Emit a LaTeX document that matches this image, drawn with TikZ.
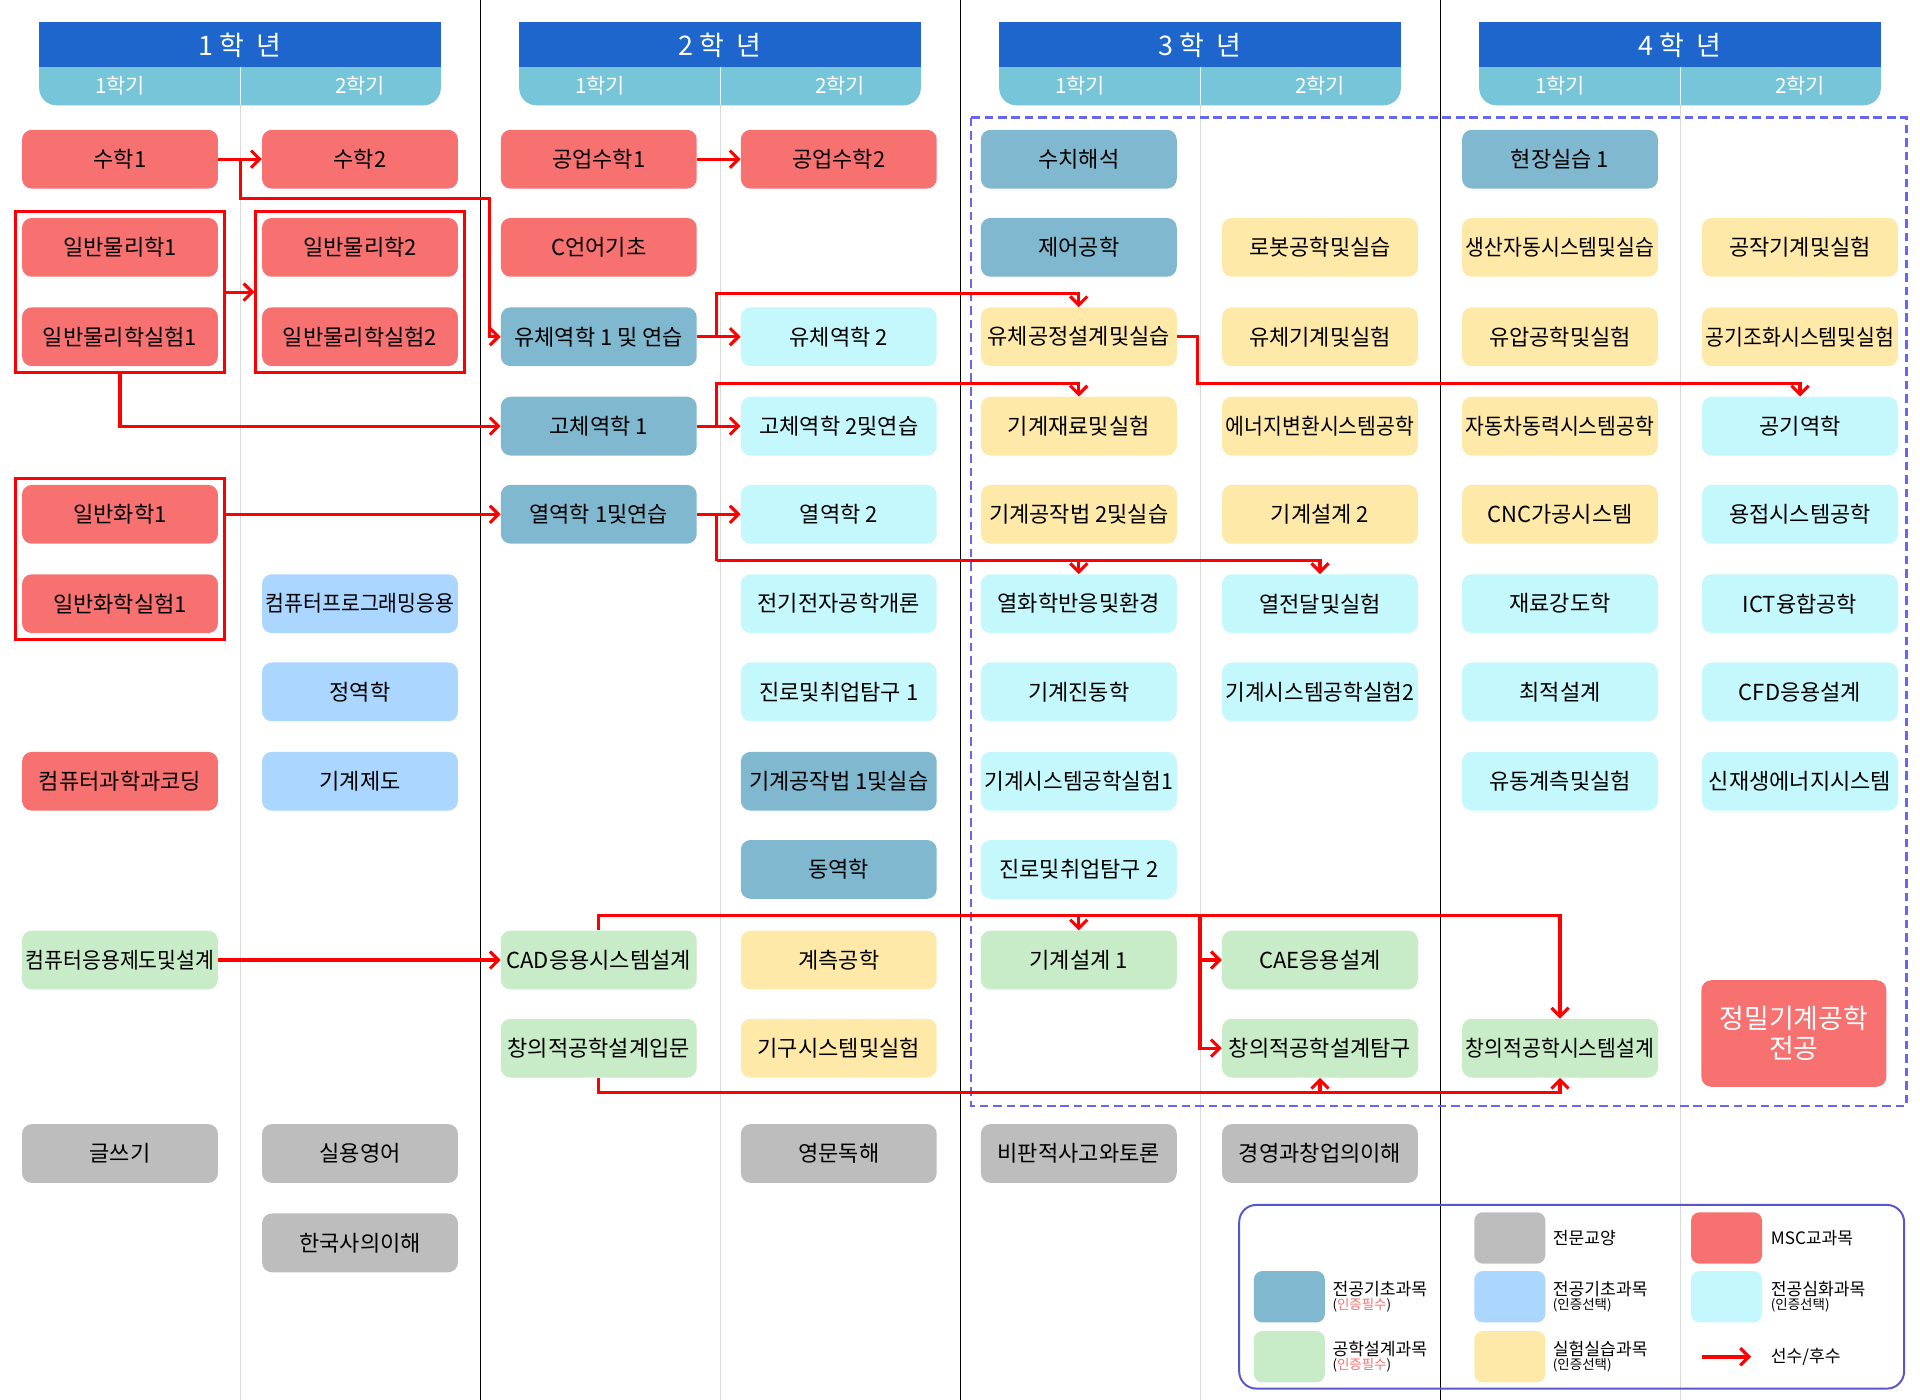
\documentclass[tikz,border=0pt]{standalone}
\usepackage{fontspec}
\usepackage{graphicx}
\newfontfamily\cjk{Noto Sans CJK KR}
\usetikzlibrary{arrows.meta,fit,calc}
\definecolor{msc}{HTML}{F87171}
\definecolor{gen}{HTML}{BDBDBD}
\definecolor{teal}{HTML}{7FB8CF}
\definecolor{lblue}{HTML}{AAD6FF}
\definecolor{cyanc}{HTML}{C5F8FC}
\definecolor{green}{HTML}{C8EBC8}
\definecolor{yel}{HTML}{FFE9A8}
\definecolor{hblue}{HTML}{1F66CC}
\definecolor{hsem}{HTML}{76C5D8}
\definecolor{purp}{HTML}{6666EE}
\newsavebox\fbx
\newcommand\fitt[1]{\sbox\fbx{#1}\ifdim\wd\fbx>154pt\resizebox{154pt}{\height}{\usebox\fbx}\else\usebox\fbx\fi}
\newcommand\crs[5]{\node[course,fill=#4] (#1) at (#2,#3) {\fitt{#5}};}
\begin{document}
\begin{tikzpicture}[x=1pt,y=-1pt,
  course/.style={rounded corners=8pt,minimum width=160pt,minimum height=48pt,inner sep=0pt,font=\cjk\fontsize{18}{20}\selectfont},
  redgrp/.style={draw=red,line width=2.2pt,inner sep=5pt},
  wire/.style={draw=red,line width=2.5pt},
  arr/.style={wire,-{Straight Barb[length=7pt,width=14pt,line width=2.5pt]}},
  sep/.style={line width=0.6pt},
  lsep/.style={draw=gray!30,line width=0.6pt}]
\useasboundingbox (0,0) rectangle (1568,1143);
\fill[white] (0,0) rectangle (1568,1143);
% separators
\foreach \x in {196,588,980,1372} \draw[lsep] (\x,58) -- (\x,1143);
\foreach \x in {392,784,1176} \draw[sep] (\x,0) -- (\x,1143);
% headers
\foreach \cx/\yr in {196/1,588/2,980/3,1372/4}{
  \fill[hsem,rounded corners=14pt] (\cx-164,40) rectangle (\cx+164,86);
  \fill[hblue] (\cx-164,18) rectangle (\cx+164,55);
  \draw[white!80!hsem,line width=0.6pt] (\cx,55) -- (\cx,86);
  \node[font=\cjk\fontsize{22}{24}\selectfont,text=white] (yr\yr) at (\cx,37) {\yr\ 학 \ 년};
  \node[font=\cjk\fontsize{17}{19}\selectfont,text=white] (sa\yr) at (\cx-98,70) {1학기};
  \node[font=\cjk\fontsize{17}{19}\selectfont,text=white] (sb\yr) at (\cx+98,70) {2학기};
}
\draw[purp,dashed,line width=2pt,dash pattern=on 7pt off 4pt] (793,96) rectangle (1557,903);
% column 1
\crs{s1}{98}{130}{msc}{수학1}
\crs{p1}{98}{202}{msc}{일반물리학1}
\crs{pl1}{98}{275}{msc}{일반물리학실험1}
\crs{ch1}{98}{420}{msc}{일반화학1}
\crs{chl1}{98}{493}{msc}{일반화학실험1}
\crs{cc}{98}{638}{msc}{컴퓨터과학과코딩}
\crs{cad0}{98}{784}{green}{컴퓨터응용제도및설계}
\crs{wr}{98}{942}{gen}{글쓰기}
% column 2
\crs{s2}{294}{130}{msc}{수학2}
\crs{p2}{294}{202}{msc}{일반물리학2}
\crs{pl2}{294}{275}{msc}{일반물리학실험2}
\crs{cpa}{294}{493}{lblue}{컴퓨터프로그래밍응용}
\crs{st}{294}{565}{lblue}{정역학}
\crs{md}{294}{638}{lblue}{기계제도}
\crs{en}{294}{942}{gen}{실용영어}
\crs{kh}{294}{1015}{gen}{한국사의이해}
% column 3
\crs{em1}{489}{130}{msc}{공업수학1}
\crs{cl}{489}{202}{msc}{C언어기초}
\crs{f1}{489}{275}{teal}{유체역학 1 및 연습}
\crs{k1}{489}{348}{teal}{고체역학 1}
\crs{t1}{489}{420}{teal}{열역학 1및연습}
\crs{cad}{489}{784}{green}{CAD응용시스템설계}
\crs{cdi}{489}{856}{green}{창의적공학설계입문}
% column 4
\crs{em2}{685}{130}{msc}{공업수학2}
\crs{f2}{685}{275}{cyanc}{유체역학 2}
\crs{k2}{685}{348}{cyanc}{고체역학 2및연습}
\crs{t2}{685}{420}{cyanc}{열역학 2}
\crs{ee}{685}{493}{cyanc}{전기전자공학개론}
\crs{cr1}{685}{565}{cyanc}{진로및취업탐구 1}
\crs{mf1}{685}{638}{teal}{기계공작법 1및실습}
\crs{dy}{685}{710}{teal}{동역학}
\crs{ms}{685}{784}{yel}{계측공학}
\crs{mc}{685}{856}{yel}{기구시스템및실험}
\crs{er}{685}{942}{gen}{영문독해}
% column 5
\crs{na}{881}{130}{teal}{수치해석}
\crs{ctl}{881}{202}{teal}{제어공학}
\crs{fp}{881}{275}{yel}{유체공정설계및실습}
\crs{mat}{881}{348}{yel}{기계재료및실험}
\crs{mf2}{881}{420}{yel}{기계공작법 2및실습}
\crs{rxn}{881}{493}{cyanc}{열화학반응및환경}
\crs{vib}{881}{565}{cyanc}{기계진동학}
\crs{msl1}{881}{638}{cyanc}{기계시스템공학실험1}
\crs{cr2}{881}{710}{cyanc}{진로및취업탐구 2}
\crs{md1}{881}{784}{green}{기계설계 1}
\crs{ct}{881}{942}{gen}{비판적사고와토론}
% column 6
\crs{rb}{1078}{202}{yel}{로봇공학및실습}
\crs{fm}{1078}{275}{yel}{유체기계및실험}
\crs{ec}{1078}{348}{yel}{에너지변환시스템공학}
\crs{md2}{1078}{420}{yel}{기계설계 2}
\crs{htr}{1078}{493}{cyanc}{열전달및실험}
\crs{msl2}{1078}{565}{cyanc}{기계시스템공학실험2}
\crs{cae}{1078}{784}{green}{CAE응용설계}
\crs{cdx}{1078}{856}{green}{창의적공학설계탐구}
\crs{bm}{1078}{942}{gen}{경영과창업의이해}
% column 7
\crs{ip}{1274}{130}{teal}{현장실습 1}
\crs{pa}{1274}{202}{yel}{생산자동시스템및실습}
\crs{hy}{1274}{275}{yel}{유압공학및실험}
\crs{av}{1274}{348}{yel}{자동차동력시스템공학}
\crs{cnc}{1274}{420}{yel}{CNC가공시스템}
\crs{ms2}{1274}{493}{cyanc}{재료강도학}
\crs{opt}{1274}{565}{cyanc}{최적설계}
\crs{fl}{1274}{638}{cyanc}{유동계측및실험}
\crs{csd}{1274}{856}{green}{창의적공학시스템설계}
% column 8
\crs{mt}{1470}{202}{yel}{공작기계및실험}
\crs{ac}{1470}{275}{yel}{공기조화시스템및실험}
\crs{aero}{1470}{348}{cyanc}{공기역학}
\crs{wd}{1470}{420}{cyanc}{용접시스템공학}
\crs{ict}{1470}{493}{cyanc}{ICT융합공학}
\crs{cfd}{1470}{565}{cyanc}{CFD응용설계}
\crs{re}{1470}{638}{cyanc}{신재생에너지시스템}
\node[fill=msc,rounded corners=8pt,minimum width=151pt,minimum height=87pt,text=white,align=center,font=\cjk\fontsize{22}{25}\selectfont] (major) at (1465,844) {정밀기계공학\\전공};
% red groups
\node[redgrp,fit=(p1)(pl1)] (g1) {};
\node[redgrp,fit=(p2)(pl2)] (g2) {};
\node[redgrp,fit=(ch1)(chl1)] (g3) {};
% arrows
\draw[arr] (s1.east) -- (s2.west);
\draw[arr] (s1.east) ++(18,0) -- ++(0,32) -| ([xshift=-9pt]f1.west) -- (f1.west);
\draw[arr] (g1.east) -- (g2.west);
\draw[arr] (g1.south) |- (k1.west);
\draw[arr] (ch1.east -| g3.east) -- (t1.west);
\draw[arr] (em1.east) -- (em2.west);
\draw[arr] (f1.east) -- (f2.west);
\draw[arr] (f1.east) ++(16,0) -- ++(0,-35) -| (fp.north);
\draw[arr] (k1.east) -- (k2.west);
\draw[arr] (k1.east) ++(16,0) -- ++(0,-35) -| (mat.north);
\draw[arr] (t1.east) -- (t2.west);
\coordinate (J) at ([xshift=16pt,yshift=-38pt]t1.east);
\draw[wire] (t1.east -| J) -- (J);
\draw[arr] (J) -| (rxn.north);
\draw[arr] (J) -| (htr.north);
\draw[arr] (fp.east) -- ++(17,0) -- ++(0,38) -| (aero.north);
\draw[arr] (cad0.east) -- (cad.west);
\coordinate (T) at ([yshift=12pt]cad.north);
\draw[arr] (cad.north) -- (T) -| (csd.north);
\draw[arr] (T) -| (md1.north);
\coordinate (V) at (980,748);
\draw[wire] (V) -- (980,856);
\draw[arr] (V) |- (cae.west);
\draw[arr] (V) |- (cdx.west);
\coordinate (B) at ([yshift=-12pt]cdi.south);
\draw[arr] (cdi.south) -- (B) -| (csd.south);
\draw[arr] (B) -| (cdx.south);
% legend
\draw[purp!85!black,line width=1.6pt,rounded corners=14pt] (1012,984) rectangle (1555,1134);
\tikzset{sw/.style={rounded corners=7pt,minimum width=58pt,minimum height=42pt,inner sep=0pt},
  lt/.style={anchor=west,font=\cjk\fontsize{14}{15}\selectfont,align=left,inner sep=0pt},
  ls/.style={font=\cjk\fontsize{11}{12}\selectfont}}
\node[sw,fill=gen] (lg1) at (1233,1011) {};
\node[lt] (lt1) at (1268,1011) {전문교양};
\node[sw,fill=msc] (lg2) at (1410,1011) {};
\node[lt] (lt2) at (1446,1011) {MSC교과목};
\node[sw,fill=teal] (lg3) at (1053,1059) {};
\node[lt] (lt3) at (1088,1059) {전공기초과목\\[-3pt]{\fontsize{11}{12}\selectfont(\textcolor{msc}{인증필수})}};
\node[sw,fill=lblue] (lg4) at (1233,1059) {};
\node[lt] (lt4) at (1268,1059) {전공기초과목\\[-3pt]{\fontsize{11}{12}\selectfont(인증선택)}};
\node[sw,fill=cyanc] (lg5) at (1410,1059) {};
\node[lt] (lt5) at (1446,1059) {전공심화과목\\[-3pt]{\fontsize{11}{12}\selectfont(인증선택)}};
\node[sw,fill=green] (lg6) at (1053,1108) {};
\node[lt] (lt6) at (1088,1108) {공학설계과목\\[-3pt]{\fontsize{11}{12}\selectfont(\textcolor{msc}{인증필수})}};
\node[sw,fill=yel] (lg7) at (1233,1108) {};
\node[lt] (lt7) at (1268,1108) {실험실습과목\\[-3pt]{\fontsize{11}{12}\selectfont(인증선택)}};
\coordinate (la) at (1390,1108);
\coordinate (lb) at (1430,1108);
\draw[arr,line width=3.5pt] (la) -- (lb);
\node[lt] (lt8) at (1446,1108) {선수/후수};
\end{tikzpicture}
\end{document}
